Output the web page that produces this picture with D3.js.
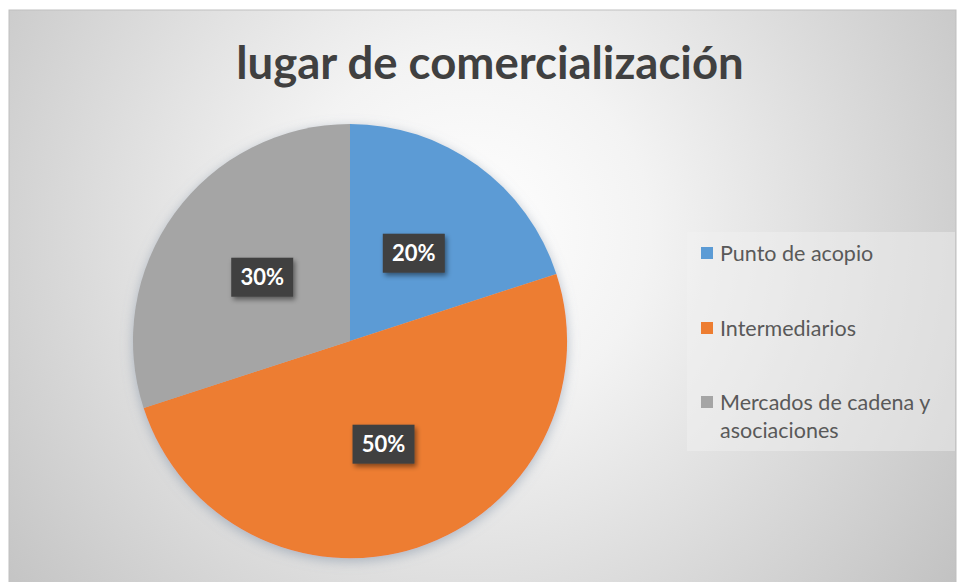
<!DOCTYPE html>
<html>
<head>
<meta charset="utf-8">
<script src="https://cdn.jsdelivr.net/npm/d3@7"></script>
<style>
  html, body { margin: 0; padding: 0; background: #fff; }
  svg { display: block; }
</style>
</head>
<body>
<div id="chart"></div>
<script>
const title = 'lugar de comercialización';
const categories = ['Punto de acopio', 'Intermediarios', 'Mercados de cadena y asociaciones'];
const legendLines = [['Punto de acopio'], ['Intermediarios'], ['Mercados de cadena y', 'asociaciones']];
const values = [20, 50, 30];
const colors = ['#5B9BD5', '#ED7D31', '#A5A5A5'];

const width = 959, height = 582;
const frame = { x: 9, y: 10, w: 947, h: 580 };
const cx = 350, cy = 341, radius = 217;

const svg = d3.select('#chart').append('svg')
  .attr('width', width)
  .attr('height', height);

const defs = svg.append('defs');

const bg = defs.append('radialGradient')
  .attr('id', 'bg')
  .attr('gradientUnits', 'userSpaceOnUse')
  .attr('cx', 470).attr('cy', 230).attr('r', 600);
bg.append('stop').attr('offset', 0).attr('stop-color', '#ffffff');
bg.append('stop').attr('offset', 0.3).attr('stop-color', '#f3f3f3');
bg.append('stop').attr('offset', 1).attr('stop-color', '#c2c2c2');

const pieShadow = defs.append('filter').attr('id', 'pieShadow')
  .attr('x', '-20%').attr('y', '-20%').attr('width', '140%').attr('height', '140%');
pieShadow.append('feDropShadow')
  .attr('dx', 0).attr('dy', 3).attr('stdDeviation', 6)
  .attr('flood-color', '#7d8ea3').attr('flood-opacity', 0.55);

const boxShadow = defs.append('filter').attr('id', 'boxShadow')
  .attr('x', '-30%').attr('y', '-30%').attr('width', '160%').attr('height', '170%');
boxShadow.append('feDropShadow')
  .attr('dx', 2).attr('dy', 3).attr('stdDeviation', 2.5)
  .attr('flood-color', '#000').attr('flood-opacity', 0.45);

// chart area
svg.append('rect')
  .attr('x', frame.x).attr('y', frame.y)
  .attr('width', frame.w).attr('height', frame.h)
  .attr('fill', 'url(#bg)')
  .attr('stroke', '#bfbfbf')
  .attr('stroke-width', 1);

// title
svg.append('text')
  .attr('x', 490)
  .attr('y', 79)
  .attr('text-anchor', 'middle')
  .style('font-family', 'Lato, "Open Sans", sans-serif')
  .style('font-weight', 'bold')
  .style('font-size', '45.5px')
  .style('fill', '#404040')
  .text(title);

// pie
const pie = d3.pie().sort(null).value(d => d)(values);
const arc = d3.arc().innerRadius(0).outerRadius(radius);
const total = d3.sum(values);

const g = svg.append('g').attr('transform', `translate(${cx},${cy})`);

g.append('g')
  .attr('filter', 'url(#pieShadow)')
  .selectAll('path')
  .data(pie)
  .enter().append('path')
  .attr('d', arc)
  .attr('fill', (d, i) => colors[i]);

// data labels
const boxW = 62, boxH = 39;
const labels = g.selectAll('.lbl')
  .data(pie)
  .enter().append('g')
  .attr('class', 'lbl')
  .attr('transform', d => {
    const [x, y] = arc.centroid(d);
    return `translate(${x},${y})`;
  });

labels.append('rect')
  .attr('x', -boxW / 2).attr('y', -boxH / 2)
  .attr('width', boxW).attr('height', boxH)
  .attr('fill', '#3f3f3f')
  .attr('filter', 'url(#boxShadow)');

labels.append('text')
  .attr('text-anchor', 'middle')
  .attr('dy', '0.36em')
  .style('font-family', 'Lato, "Open Sans", sans-serif')
  .style('font-weight', 'bold')
  .style('font-size', '22px')
  .style('fill', '#ffffff')
  .text(d => d3.format('.0%')(d.value / total));

// legend
svg.append('rect')
  .attr('x', 687).attr('y', 232)
  .attr('width', 268).attr('height', 219)
  .attr('fill', '#f2f2f2')
  .attr('fill-opacity', 0.45);

const legendY = [253, 328, 402];
const legend = svg.append('g')
  .selectAll('g')
  .data(categories)
  .enter().append('g')
  .attr('transform', (d, i) => `translate(701,${legendY[i]})`);

legend.append('rect')
  .attr('x', 0).attr('y', -6)
  .attr('width', 12).attr('height', 12)
  .attr('fill', (d, i) => colors[i]);

legend.append('text')
  .style('font-family', 'Lato, "Open Sans", sans-serif')
  .style('font-size', '21.5px')
  .style('fill', '#595959')
  .selectAll('tspan')
  .data((d, i) => legendLines[i])
  .enter().append('tspan')
  .attr('x', 19)
  .attr('y', (d, j) => j * 28)
  .attr('dy', '0.35em')
  .text(d => d);
</script>
</body>
</html>
